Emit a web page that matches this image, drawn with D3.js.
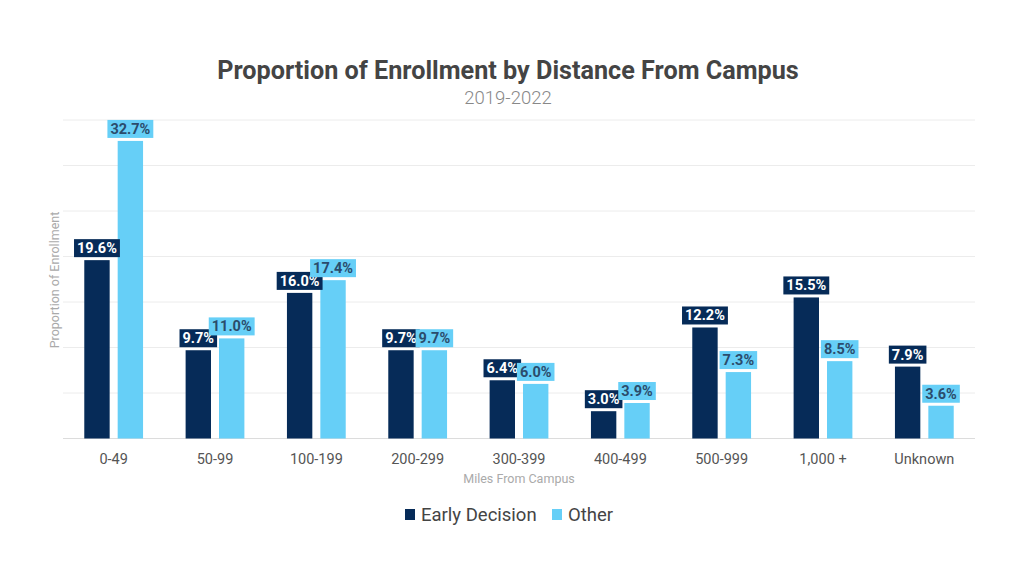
<!DOCTYPE html>
<html>
<head>
<meta charset="utf-8">
<script src="https://cdn.jsdelivr.net/npm/d3@7"></script>
<style>
  body { margin: 0; background: #fff; }
  svg { display: block; font-family: Roboto, "Noto Sans", sans-serif; }
</style>
</head>
<body>
<svg id="chart" width="1024" height="576"></svg>
<script>
// Proporção de matrícula por distância do campus, 2019-2022
const categorias = ["0-49", "50-99", "100-199", "200-299", "300-399", "400-499", "500-999", "1,000 +", "Unknown"];
const series = ["Early Decision", "Other"];
const earlyDecision = [19.6, 9.7, 16.0, 9.7, 6.4, 3.0, 12.2, 15.5, 7.9];
const other = [32.7, 11.0, 17.4, 9.7, 6.0, 3.9, 7.3, 8.5, 3.6];
const yTicks = [0, 5, 10, 15, 20, 25, 30, 35];

const cores = { "Early Decision": "#062b58", "Other": "#66cff7" };
const corTexto = { "Early Decision": "#ffffff", "Other": "#2b4c6c" };

const width = 1024, height = 576;
const margem = { left: 63, right: 49, top: 120, bottom: 137.5 };
const svg = d3.select("#chart");

const x0 = d3.scaleBand()
    .domain(categorias)
    .range([margem.left, width - margem.right])
    .paddingInner(0.42)
    .paddingOuter(0.21);

const x1 = d3.scaleBand()
    .domain(series)
    .range([0, x0.bandwidth()])
    .paddingInner(0.24);

const y = d3.scaleLinear()
    .domain([0, 35])
    .range([height - margem.bottom, margem.top]);

// linhas de grade
svg.append("g")
    .selectAll("line")
    .data(yTicks)
    .join("line")
    .attr("x1", margem.left)
    .attr("x2", width - margem.right)
    .attr("y1", d => y(d))
    .attr("y2", d => y(d))
    .attr("stroke", d => d === 0 ? "#dcdcdc" : "#ececec")
    .attr("stroke-width", 1);

// eixo x (só os rótulos)
const eixoX = svg.append("g")
    .attr("transform", `translate(0,${y(0)})`)
    .call(d3.axisBottom(x0).tickSize(0).tickPadding(15));
eixoX.select(".domain").remove();
eixoX.selectAll("text")
    .attr("font-family", "Roboto, sans-serif")
    .attr("font-size", 14.5)
    .attr("fill", "#555");

const dados = categorias.map((c, i) => ({
    cat: c,
    valores: [
        { serie: "Early Decision", v: earlyDecision[i] },
        { serie: "Other", v: other[i] }
    ]
}));

const grupos = svg.append("g")
    .selectAll("g")
    .data(dados)
    .join("g")
    .attr("transform", d => `translate(${x0(d.cat)},0)`);

grupos.selectAll("rect")
    .data(d => d.valores)
    .join("rect")
    .attr("x", d => x1(d.serie))
    .attr("width", x1.bandwidth())
    .attr("y", d => y(d.v))
    .attr("height", d => y(0) - y(d.v))
    .attr("fill", d => cores[d.serie]);

// rótulos de dados: série 1 primeiro, série 2 por cima
series.forEach(s => {
    const camada = svg.append("g");
    dados.forEach(d => {
        const item = d.valores.find(v => v.serie === s);
        const cx = x0(d.cat) + x1(s) + x1.bandwidth() / 2;
        const base = y(item.v) - 3;
        const g = camada.append("g");
        const rect = g.append("rect").attr("fill", cores[s]);
        const txt = g.append("text")
            .attr("x", cx)
            .attr("y", base - 4)
            .attr("text-anchor", "middle")
            .attr("font-size", 14.5)
            .attr("font-weight", 700)
            .attr("fill", corTexto[s])
            .text(item.v.toFixed(1) + "%");
        const w = txt.node().getComputedTextLength() + 6;
        rect.attr("x", cx - w / 2).attr("width", w)
            .attr("y", base - 18).attr("height", 18);
    });
});

// títulos
svg.append("text")
    .attr("x", 508).attr("y", 79)
    .attr("text-anchor", "middle")
    .attr("font-size", 25.2)
    .attr("font-weight", 700)
    .attr("fill", "#444")
    .text("Proportion of Enrollment by Distance From Campus");

svg.append("text")
    .attr("x", 508).attr("y", 104)
    .attr("text-anchor", "middle")
    .attr("font-size", 18.5)
    .attr("font-weight", 300)
    .attr("fill", "#888")
    .text("2019-2022");

svg.append("text")
    .attr("x", 519).attr("y", 483)
    .attr("text-anchor", "middle")
    .attr("font-size", 12.5)
    .attr("fill", "#aaa")
    .text("Miles From Campus");

svg.append("text")
    .attr("transform", "translate(59,280) rotate(-90)")
    .attr("text-anchor", "middle")
    .attr("font-size", 12.5)
    .attr("fill", "#aaa")
    .text("Proportion of Enrollment");

// legenda
const legendaX = [405, 552];
const legenda = svg.append("g")
    .selectAll("g")
    .data(series)
    .join("g")
    .attr("transform", (d, i) => `translate(${legendaX[i]},509)`);

legenda.append("rect")
    .attr("width", 10).attr("height", 11)
    .attr("fill", d => cores[d]);

legenda.append("text")
    .attr("x", 16).attr("y", 12)
    .attr("font-size", 18.5)
    .attr("fill", "#444")
    .text(d => d);
</script>
</body>
</html>
